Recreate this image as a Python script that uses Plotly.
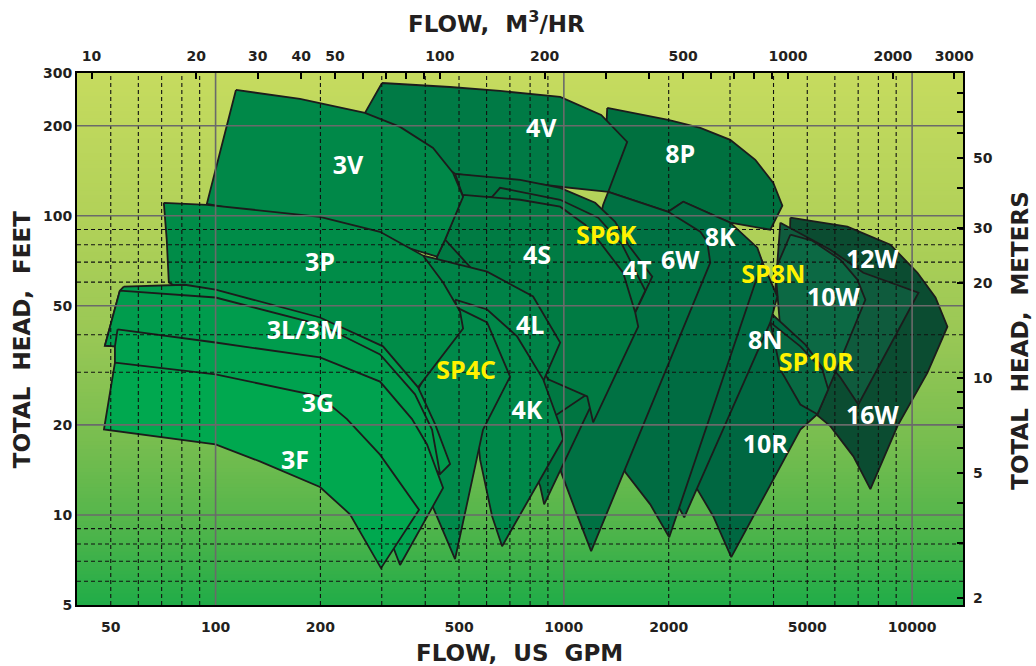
import numpy as np
import plotly.graph_objects as go

# ---------------- data ----------------
GPM_PER_M3H = 4.4029

GPM_RANGE = [40, 14000]
FT_RANGE = [5, 300]
M_AXIS_LOG_RANGE = [0.279, 1.968]   # right-hand metres scale as printed on the chart

GPM_TICKS = [50, 100, 200, 500, 1000, 2000, 5000, 10000]
FT_TICKS = [5, 10, 20, 50, 100, 200, 300]
M3H_TICKS = [10, 20, 30, 40, 50, 100, 200, 500, 1000, 2000, 3000]
M3H_MINOR = [60, 70, 80, 90, 300, 400, 600, 700, 800, 900]
M_TICKS = [2, 5, 10, 20, 30, 50]
M_MINOR = [3, 4, 6, 7, 8, 9, 40, 60, 70, 80]

GPM_GRID_MAJOR = [100, 1000, 10000]
GPM_GRID_MINOR = [50, 60, 70, 80, 90, 200, 300, 400, 500, 600, 700, 800, 900,
                  2000, 3000, 4000, 5000, 6000, 7000, 8000, 9000]
FT_GRID_MAJOR = [10, 20, 50, 100, 200]
FT_GRID_MINOR = [6, 7, 8, 9, 30, 40, 60, 70, 80, 90]

# pump coverage regions (GPM, feet of head)
W16_GPM = [4470, 6518, 8663, 10360, 11670, 12630, 11070, 9075, 7589, 6781, 5824, 5275, 4776, 4411]
W16_FT = [98.5, 91.9, 80, 64.5, 53.3, 42.6, 29.9, 19.8, 12.2, 15.7, 19.8, 21.8, 28.4, 52.4]

W12_GPM = [4185, 5824, 7245, 8950, 10430, 7009, 6223, 5381, 4621, 4048]
W12_FT = [94.8, 77, 64.5, 58.8, 55.3, 23.4, 28.8, 35.2, 40.1, 56.6]

W10_GPM = [4470, 5170, 6223, 6962, 7341, 6020, 5345, 4936, 4470, 4185, 4048]
W10_FT = [86.4, 82.5, 71.3, 61.2, 52.4, 29.9, 21.7, 24.3, 30.6, 41.7, 66]

R10_GPM = [3319, 4048, 4936, 5524, 5672, 5345, 4776, 3025, 2685, 2384, 2547, 2907]
R10_FT = [56.6, 45.7, 37.1, 31.1, 25.9, 21.7, 19.3, 7.23, 9.9, 12.5, 20.9, 41.7]

SP10R_GPM = [3916, 4776, 5524, 5744, 5345, 4776, 4185]
SP10R_FT = [44, 36.6, 30.6, 26.3, 21.7, 23.4, 30.6]

N8_GPM = [3211, 3617, 4102, 3916, 2217, 1892, 1679, 1830, 2307]
N8_FT = [80, 75.2, 53.7, 44, 9.82, 13.7, 19, 28.4, 52.4]

P8_GPM = [1332, 1994, 2465, 3005, 3546, 3994, 4240, 3916, 3005, 2202, 1994, 1341, 1315]
P8_FT = [229.3, 209.1, 196.6, 179.3, 153.8, 128.8, 108, 89.8, 94.8, 111.4, 103.1, 120.2, 166.1]

V4_GPM = [300.5, 471.3, 656, 976, 1280, 1520, 1341, 976, 487.1, 268.5]
V4_FT = [277.8, 269.4, 261.3, 249.5, 217.3, 176.6, 120.2, 125, 138.1, 220.7]

K8_GPM = [1994, 2202, 3005, 3594, 3714, 2007, 1770, 1500, 1377, 1550, 1770]
K8_FT = [103.1, 111.4, 94.8, 78.2, 70.2, 8.42, 10.85, 13.9, 19.3, 41.7, 77]

W6_GPM = [1341, 1994, 2465, 2581, 2633, 1198, 1078, 982, 944, 1114, 1297]
W6_FT = [120.2, 103.1, 88.4, 81.9, 69.7, 7.57, 10.4, 13.9, 17.9, 52.4, 108.8]

T4_GPM = [487.1, 749, 976, 1230, 1404, 1530, 1794, 878, 855, 749, 538, 441.1, 432.4, 456, 513.7]
T4_FT = [138.1, 131.8, 124, 110.5, 95.5, 80, 62.6, 10.85, 12.5, 17.9, 33.1, 52.4, 73, 83.2, 115.7]

SP6K_GPM = [622.3, 656, 976, 1255, 1471, 1713, 1272, 749, 538, 441.1, 432.4, 456, 513.7]
SP6K_FT = [115.7, 124, 113.1, 98.5, 80, 56.2, 27.1, 17.9, 33.1, 52.4, 73, 83.2, 115.7]

S4_GPM = [513.7, 749, 976, 1151, 1272, 1480, 1603, 1635, 1214, 1167, 901.5, 656, 456]
S4_FT = [117.5, 113.1, 107.2, 93.3, 81.3, 64.5, 47.5, 42.6, 20.4, 24.9, 28.4, 52.4, 83.2]

L4_GPM = [394.3, 602, 816, 976, 884, 724.5, 614.1, 471.3, 426.8]
L4_FT = [73.6, 65, 53.7, 37.7, 29, 16.6, 24.3, 38.6, 56.6]

K4_GPM = [487.1, 602, 734, 872, 976, 995, 664.8, 622.3, 574.8, 538]
K4_FT = [52.4, 48.6, 39.5, 28.4, 19.8, 17.9, 7.86, 9.9, 15.3, 33.1]

SP4C_GPM = [493.6, 602, 701, 586.2, 487.1, 421.1, 386.5, 381.4, 441.1]
SP4C_FT = [49.3, 44, 29, 19.3, 7.12, 10.6, 14.2, 26.3, 35.7]

V3_GPM = [114.4, 174.7, 268.5, 338.6, 421.1, 480.7, 513.7, 456, 432.4, 296.6, 174.7, 94.4]
V3_FT = [263.3, 245.7, 220.7, 198.1, 168.6, 139.1, 115.7, 83.2, 73, 83.2, 95.5, 109.6]

P3_GPM = [71, 94.4, 199.4, 296.6, 394.3, 450, 503.5, 513.7, 381.4, 296.6, 174.7, 90.1, 73.4, 72.4]
P3_FT = [110.5, 108.8, 99.2, 88.4, 73.6, 59.8, 47.8, 42, 26.7, 30.6, 40.1, 52.4, 59.8, 83.2]

M3_GPM = [54.5, 81.6, 100, 199.4, 302.5, 381.4, 426.8, 471.3, 441.1, 338.6, 199.4, 100, 51.4, 48.1, 53.1]
M3_FT = [58, 58.8, 56.6, 45.7, 36.6, 26.7, 20.1, 14.8, 13.7, 17.9, 24.3, 30.6, 36.6, 36.8, 56.2]

L3_GPM = [53.1, 100, 199.4, 296.6, 373.8, 418.3, 441.1, 338.6, 199.4, 100, 51.4, 48.1]
L3_FT = [56.2, 53.3, 43.3, 34.4, 25.3, 19.3, 13.7, 17.9, 24.3, 30.6, 36.6, 36.8]

G3_GPM = [52.3, 100, 199.4, 296.6, 366.5, 404.7, 450, 338.6, 321.2, 259.8, 174.7, 100, 51.4, 51.4]
G3_FT = [41.7, 37.7, 33.6, 27.9, 20.9, 17.2, 12.3, 6.8, 7.98, 11.3, 17.9, 24.3, 32.3, 36.6]

F3_GPM = [51.4, 100, 199.4, 238.4, 296.6, 383.9, 298.5, 243.2, 199.4, 134, 100, 59.8, 47.8]
F3_FT = [32.3, 29.5, 24.9, 20.9, 15.9, 10.4, 6.64, 10.05, 12.4, 15.1, 17.2, 18.7, 19.3]

LABEL_TEXT = ["3V", "4V", "8P", "3P", "4S", "SP6K", "4T", "6W", "8K", "SP8N", "12W", "10W",
              "8N", "3L/3M", "4L", "SP4C", "SP10R", "3G", "4K", "10R", "16W", "3F"]
LABEL_GPM = [240, 861, 2159, 199.4, 838, 1323, 1624, 2159, 2812, 3995, 7689, 5940,
             3787, 180.6, 800, 524, 5302, 196.8, 784, 3787, 7689, 169]
LABEL_FT = [144.6, 192, 157.3, 68.6, 72.4, 84.4, 64.5, 69.7, 83.2, 62.6, 70.2, 52.4,
            37.7, 40.7, 42.3, 29.9, 31.8, 23.2, 22.0, 16.95, 21.2, 15.0]
LABEL_IS_SP = [t.startswith("SP") for t in LABEL_TEXT]

# drawing order: first = bottom
REGIONS = [
    (W16_GPM, W16_FT, "#0b4c31"),
    (W12_GPM, W12_FT, "#0f5b3d"),
    (W10_GPM, W10_FT, "#0c6944"),
    (R10_GPM, R10_FT, "#006741"),
    (SP10R_GPM, SP10R_FT, "#086a43"),
    (N8_GPM, N8_FT, "#006a42"),
    (P8_GPM, P8_FT, "#00703f"),
    (V4_GPM, V4_FT, "#007a45"),
    (K8_GPM, K8_FT, "#006c42"),
    (W6_GPM, W6_FT, "#007143"),
    (T4_GPM, T4_FT, "#007541"),
    (SP6K_GPM, SP6K_FT, "#007842"),
    (S4_GPM, S4_FT, "#007b43"),
    (L4_GPM, L4_FT, "#008247"),
    (K4_GPM, K4_FT, "#008849"),
    (SP4C_GPM, SP4C_FT, "#00894a"),
    (V3_GPM, V3_FT, "#008848"),
    (P3_GPM, P3_FT, "#008c48"),
    (M3_GPM, M3_FT, "#009a4c"),
    (L3_GPM, L3_FT, "#009c4d"),
    (G3_GPM, G3_FT, "#00a24f"),
    (F3_GPM, F3_FT, "#00a84f"),
]

BG_STOPS = [(0.0, (0x20, 0xac, 0x48)), (0.15, (0x52, 0xb5, 0x4b)), (0.3, (0x76, 0xbd, 0x4f)),
            (0.5, (0x98, 0xc7, 0x55)), (0.7, (0xaf, 0xd0, 0x58)), (1.0, (0xc6, 0xdb, 0x5f))]

# ---------------- figure ----------------
fig = go.Figure()


def bg_color(f):
    for (f0, c0), (f1, c1) in zip(BG_STOPS[:-1], BG_STOPS[1:]):
        if f0 <= f <= f1:
            t = (f - f0) / (f1 - f0)
            c = [round(a + (b - a) * t) for a, b in zip(c0, c1)]
            return "rgb(%d,%d,%d)" % tuple(c)
    return "rgb(%d,%d,%d)" % BG_STOPS[-1][1]


shapes = []
N = 140
for i in range(N):
    f0, f1 = i / N, (i + 1) / N
    shapes.append(dict(type="rect", xref="paper", yref="paper", x0=0, x1=1, y0=f0, y1=min(1, f1 + 0.003),
                       fillcolor=bg_color((f0 + f1) / 2), line=dict(width=0), layer="below"))

for gx, fy, col in REGIONS:
    fig.add_trace(go.Scatter(x=gx + gx[:1], y=fy + fy[:1], mode="lines", fill="toself", fillcolor=col,
                             line=dict(color="#1c1c1c", width=1.8), hoverinfo="skip", showlegend=False))


def vlines(vals):
    xs, ys = [], []
    for v in vals:
        xs += [v, v, None]
        ys += [FT_RANGE[0], FT_RANGE[1], None]
    return xs, ys


def hlines(vals):
    xs, ys = [], []
    for v in vals:
        xs += [GPM_RANGE[0], GPM_RANGE[1], None]
        ys += [v, v, None]
    return xs, ys


for xs, ys in (vlines(GPM_GRID_MINOR), hlines(FT_GRID_MINOR)):
    fig.add_trace(go.Scatter(x=xs, y=ys, mode="lines", line=dict(color="#111111", width=1.1, dash="4px,3px"),
                             hoverinfo="skip", showlegend=False))
for xs, ys in (vlines(GPM_GRID_MAJOR), hlines(FT_GRID_MAJOR)):
    fig.add_trace(go.Scatter(x=xs, y=ys, mode="lines", line=dict(color="#6a6a6a", width=1.6),
                             hoverinfo="skip", showlegend=False))

fig.add_trace(go.Scatter(
    x=LABEL_GPM, y=LABEL_FT, text=LABEL_TEXT, mode="text", textposition="middle center",
    textfont=dict(family="Open Sans", size=25, weight="bold",
                  color=["#fff200" if s else "#ffffff" for s in LABEL_IS_SP]),
    hoverinfo="skip", showlegend=False))

# dummy trace so the secondary (metric) axes are drawn
fig.add_trace(go.Scatter(x=[100], y=[10], xaxis="x2", yaxis="y2", mode="markers",
                         marker=dict(opacity=0), hoverinfo="skip", showlegend=False))

TICKFONT = dict(family="DejaVu Sans", size=14, weight="bold", color="#231f20")
TITLEFONT = dict(family="DejaVu Sans", size=23, weight="bold", color="#231f20")

fig.update_layout(
    width=1036, height=666, autosize=False,
    margin=dict(l=77, r=73, t=73, b=61),
    paper_bgcolor="white", plot_bgcolor="rgba(0,0,0,0)",
    shapes=shapes, showlegend=False,
    xaxis=dict(type="log", range=[np.log10(GPM_RANGE[0]), np.log10(GPM_RANGE[1])],
               tickvals=GPM_TICKS, ticktext=[str(v) for v in GPM_TICKS], tickfont=TICKFONT,
               showgrid=False, zeroline=False, showline=True, linecolor="black", linewidth=2,
               mirror=True, ticks="", ticklabelstandoff=8, automargin=False),
    yaxis=dict(type="log", range=[np.log10(FT_RANGE[0]), np.log10(FT_RANGE[1])],
               tickvals=FT_TICKS, ticktext=[str(v) for v in FT_TICKS], tickfont=TICKFONT,
               showgrid=False, zeroline=False, showline=True, linecolor="black", linewidth=2,
               mirror=True, ticks="", automargin=False),
    xaxis2=dict(type="log", overlaying="x", side="top",
                range=[np.log10(GPM_RANGE[0] / GPM_PER_M3H), np.log10(GPM_RANGE[1] / GPM_PER_M3H)],
                tickvals=M3H_TICKS, ticktext=[str(v) for v in M3H_TICKS], tickfont=TICKFONT,
                ticks="inside", ticklen=6, tickwidth=1.5, tickcolor="black",
                minor=dict(tickvals=M3H_MINOR, ticks="inside", ticklen=6, tickwidth=1.5,
                           tickcolor="black", showgrid=False),
                showgrid=False, zeroline=False, showline=False, ticklabelstandoff=8, automargin=False),
    yaxis2=dict(type="log", overlaying="y", side="right", range=M_AXIS_LOG_RANGE,
                tickvals=M_TICKS, ticktext=[str(v) for v in M_TICKS], tickfont=TICKFONT,
                ticks="inside", ticklen=6, tickwidth=1.5, tickcolor="black",
                minor=dict(tickvals=M_MINOR, ticks="inside", ticklen=6, tickwidth=1.5,
                           tickcolor="black", showgrid=False),
                showgrid=False, zeroline=False, showline=False, ticklabelstandoff=9, automargin=False),
    annotations=[
        dict(text="FLOW,\u00a0\u00a0US\u00a0\u00a0GPM", xref="paper", yref="paper", x=0.4989, y=-0.090,
             showarrow=False, font=TITLEFONT, xanchor="center", yanchor="middle"),
        dict(text="FLOW,\u00a0\u00a0M<sup>3</sup>/HR", xref="paper", yref="paper", x=0.474, y=1.096,
             showarrow=False, font=TITLEFONT, xanchor="center", yanchor="middle"),
        dict(text="TOTAL\u00a0\u00a0HEAD,\u00a0\u00a0FEET", xref="paper", yref="paper", x=-0.062, y=0.498,
             showarrow=False, font=TITLEFONT, textangle=-90, xanchor="center", yanchor="middle"),
        dict(text="TOTAL\u00a0\u00a0HEAD,\u00a0\u00a0METERS", xref="paper", yref="paper", x=1.064, y=0.498,
             showarrow=False, font=TITLEFONT, textangle=-90, xanchor="center", yanchor="middle"),
    ],
)

# place the 1036x666 figure flush with the window (no default body margin), no mode bar
fig.write_html("out.html", config={"displayModeBar": False},
               post_script="document.body.style.margin='0';document.body.style.overflow='hidden';")
